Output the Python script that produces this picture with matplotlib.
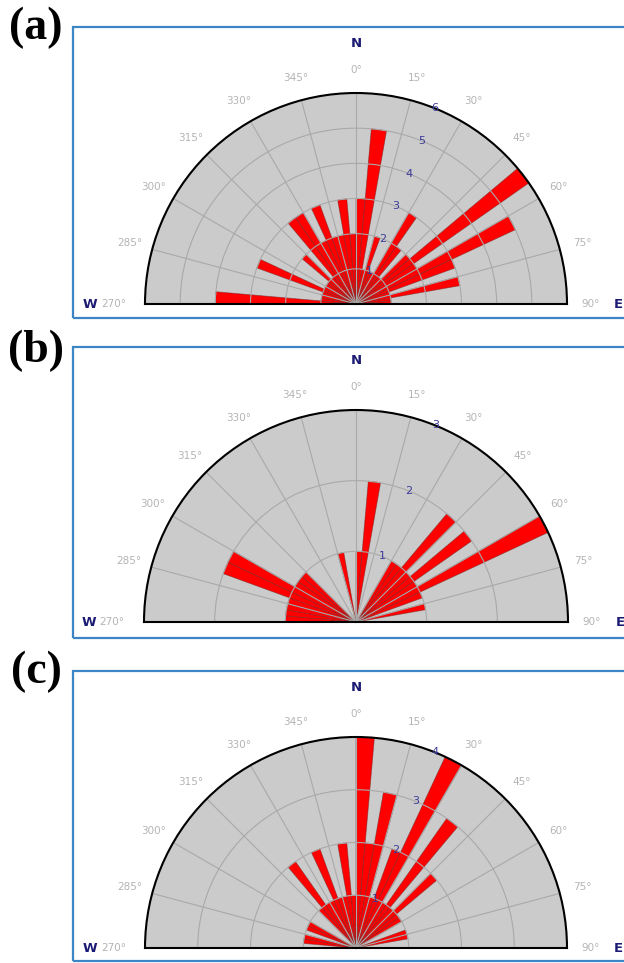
import numpy as np
import matplotlib.pyplot as plt
from matplotlib.patches import Rectangle

# 5-degree direction bins, west (270) through north (0) to east (85)
directions = list(range(270, 360, 5)) + list(range(0, 90, 5))

# counts per bin, same order as directions
counts_a = [4, 1, 1, 1, 3, 1, 1, 1, 2, 1, 3, 3, 2, 3, 2, 2, 3, 2,
            3, 5, 1, 2, 1, 1, 3, 2, 1, 2, 6, 2, 5, 3, 1, 3, 1, 1]
counts_b = [1, 1, 1, 1, 2, 2, 1, 1, 1, 0, 0, 0, 0, 0, 0, 1, 0, 0,
            1, 2, 0, 0, 0, 0, 1, 1, 2, 1, 2, 1, 3, 1, 0, 1, 0, 0]
counts_c = [0, 1, 1, 0, 1, 1, 0, 0, 0, 1, 2, 1, 1, 2, 1, 1, 2, 1,
            4, 2, 3, 1, 2, 4, 1, 3, 1, 2, 1, 1, 0, 0, 1, 1, 0, 0]

panel_labels = ["(a)", "(b)", "(c)"]
radial_max = [6, 3, 4]
angle_ticks = [270, 285, 300, 315, 330, 345, 0, 15, 30, 45, 60, 75, 90]

W, H = 624, 963
DPI = 100
# layout in pixels: (box top, box bottom, centre y, radius, label y)
layout = [(27, 318, 304, 211, 28),
          (347, 638, 622, 212, 351),
          (671, 961, 948, 211, 672)]
CX = 356
BOX_LEFT = 73

RED = "#ff0000"
GREY_BG = "#cbcbcb"
GRID = "#a9a9a9"
NAVY = "#1b1b73"
ANGLE_TXT = "#b4b4b4"


def to_theta(deg):
    """compass degrees -> radians in [-90, 90] range"""
    return np.radians(((np.asarray(deg) + 180) % 360) - 180)


fig = plt.figure(figsize=(W / DPI, H / DPI), dpi=DPI)

all_counts = [counts_a, counts_b, counts_c]
for label, counts, rmax, (btop, bbot, cy, R, ly) in zip(panel_labels, all_counts, radial_max, layout):
    # blue frame around each rose
    fig.patches.append(Rectangle((BOX_LEFT / W, 1 - bbot / H), 1.0, (bbot - btop) / H,
                                 transform=fig.transFigure, fill=False,
                                 edgecolor="#3d86c6", lw=1.6, zorder=-5))
    fig.text(36 / W, 1 - ly / H, label, ha="center", va="center",
             fontsize=33, fontweight="bold", family="Liberation Serif")

    # half-circle polar axes use a square box with the centre at 1/4 height
    ax = fig.add_axes([(CX - R) / W, (H - cy - R / 2) / H, 2 * R / W, 2 * R / H],
                      projection="polar")
    ax.set_theta_zero_location("N")
    ax.set_theta_direction(-1)
    ax.set_thetamin(-90)
    ax.set_thetamax(90)
    ax.set_ylim(0, rmax)
    ax.set_facecolor(GREY_BG)

    ax.bar(to_theta(directions), counts, width=np.radians(5), align="edge",
           color=RED, edgecolor=(0.45, 0.15, 0.15, 0.55), linewidth=0.6, zorder=1)

    ax.set_xticks(np.radians(np.arange(-90, 91, 15)))
    ax.set_xticklabels([])
    ax.set_yticks(np.arange(1, rmax + 1))
    ax.set_yticklabels([])
    ax.set_axisbelow(False)
    ax.grid(color=GRID, lw=0.8)
    for s in ["polar", "start", "end"]:
        ax.spines[s].set_color("black")
        ax.spines[s].set_linewidth(1.5)
        ax.spines[s].set_zorder(3)

    # angle labels
    for a in angle_ticks:
        f = 1.11
        if a == 270:
            f = 1.15
        ax.text(to_theta(a), rmax * f, f"{a}\u00b0", ha="center", va="center",
                fontsize=7.5, color=ANGLE_TXT, clip_on=False)
    # radial labels
    for r in range(1, rmax + 1):
        ax.text(np.radians(22), r, str(r), ha="center", va="center",
                fontsize=8, color="#3b3b9a", clip_on=False, zorder=4)
    # compass letters
    ax.text(0, rmax * 1.235, "N", ha="center", va="center", fontsize=9.5,
            fontweight="bold", color=NAVY, clip_on=False)
    ax.text(np.radians(-90), rmax * 1.26, "W", ha="center", va="center", fontsize=9.5,
            fontweight="bold", color=NAVY, clip_on=False)
    ax.text(np.radians(90), rmax * 1.245, "E", ha="center", va="center", fontsize=9.5,
            fontweight="bold", color=NAVY, clip_on=False)

fig.savefig("out.png", dpi=DPI)
